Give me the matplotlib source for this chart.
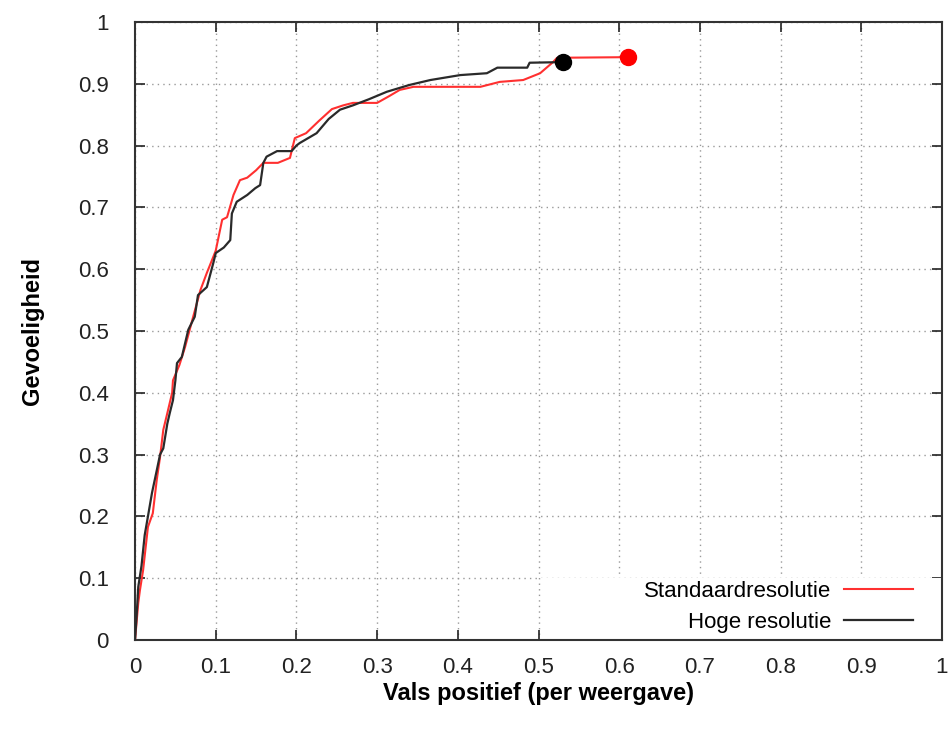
import matplotlib
matplotlib.use("Agg")
import matplotlib.pyplot as plt
from matplotlib.patches import Rectangle

# Standaardresolutie (red)
std_x = [0, 0.002, 0.004, 0.006, 0.010, 0.016, 0.022, 0.027, 0.031, 0.035, 0.040, 0.046, 0.047,
         0.055, 0.062, 0.071, 0.081, 0.089, 0.097, 0.100, 0.108, 0.114, 0.122, 0.130, 0.139,
         0.150, 0.159, 0.177, 0.192, 0.198, 0.212, 0.228, 0.244, 0.258, 0.270, 0.300, 0.315,
         0.328, 0.345, 0.380, 0.428, 0.452, 0.481, 0.502, 0.518, 0.523, 0.611]
std_y = [0, 0.03, 0.06, 0.08, 0.113, 0.183, 0.205, 0.26, 0.296, 0.34, 0.367, 0.40, 0.42,
         0.445, 0.474, 0.518, 0.566, 0.594, 0.62, 0.63, 0.68, 0.684, 0.72, 0.744, 0.748,
         0.76, 0.772, 0.772, 0.78, 0.812, 0.82, 0.84, 0.859, 0.865, 0.869, 0.869, 0.88,
         0.89, 0.895, 0.895, 0.895, 0.903, 0.906, 0.917, 0.935, 0.942, 0.943]

# Hoge resolutie (black)
hoog_x = [0, 0.002, 0.004, 0.008, 0.012, 0.016, 0.021, 0.027, 0.031, 0.035, 0.040, 0.043, 0.047,
          0.050, 0.052, 0.058, 0.066, 0.074, 0.078, 0.089, 0.097, 0.100, 0.110, 0.118, 0.120,
          0.126, 0.139, 0.149, 0.155, 0.159, 0.163, 0.176, 0.194, 0.200, 0.204, 0.225, 0.240,
          0.254, 0.270, 0.290, 0.312, 0.340, 0.366, 0.403, 0.436, 0.449, 0.486, 0.489, 0.530]
hoog_y = [0, 0.04, 0.086, 0.12, 0.17, 0.2, 0.238, 0.275, 0.30, 0.31, 0.35, 0.367, 0.388,
          0.42, 0.448, 0.458, 0.502, 0.523, 0.558, 0.571, 0.61, 0.626, 0.635, 0.647, 0.69,
          0.709, 0.72, 0.731, 0.736, 0.772, 0.782, 0.791, 0.791, 0.80, 0.804, 0.82, 0.843,
          0.858, 0.865, 0.875, 0.887, 0.898, 0.906, 0.914, 0.917, 0.926, 0.926, 0.934, 0.935]

ticks = [0, 0.1, 0.2, 0.3, 0.4, 0.5, 0.6, 0.7, 0.8, 0.9, 1]
tick_labels = ["0", "0.1", "0.2", "0.3", "0.4", "0.5", "0.6", "0.7", "0.8", "0.9", "1"]

plt.rcParams['font.family'] = ['Liberation Sans', 'DejaVu Sans']

fig = plt.figure(figsize=(9.51, 7.31), dpi=100)
ax = fig.add_axes([0.142, 0.1245, 0.8485, 0.8455])

ax.set_xlim(0, 1)
ax.set_ylim(0, 1)
ax.set_xticks(ticks)
ax.set_yticks(ticks)
ax.set_xticklabels(tick_labels)
ax.set_yticklabels(tick_labels)
ax.tick_params(direction='in', length=7, width=1.2, top=True, right=True,
               labelsize=16, colors='#222222')
ax.tick_params(axis='y', pad=19)
ax.tick_params(axis='x', pad=12)
for s in ax.spines.values():
    s.set_linewidth(1.5)
    s.set_color('#333333')

ax.grid(True, linestyle=(0, (1, 3)), color='#999999', linewidth=1.0)

# white key area
ax.add_patch(Rectangle((0.503, 0), 0.497, 0.1, facecolor='white', edgecolor='none', zorder=1.6))

ax.plot(std_x, std_y, color='#ff3030', lw=1.5, zorder=3, label='Standaardresolutie')
ax.plot(hoog_x, hoog_y, color='#2a2a2a', lw=1.6, zorder=3, label='Hoge resolutie')
ax.plot([std_x[-1]], [std_y[-1]], 'o', color='#ff0000', ms=11.5, zorder=4)
ax.plot([hoog_x[-1]], [hoog_y[-1]], 'o', color='#000000', ms=11.5, zorder=5)

ax.legend(loc='lower right', bbox_to_anchor=(0.978, -0.006), frameon=False, markerfirst=False,
          fontsize=16, handlelength=3.1, handletextpad=0.6, labelspacing=0.42,
          borderaxespad=0.1)

ax.set_xlabel('Vals positief (per weergave)', fontsize=17, fontweight='bold', labelpad=3)
ax.set_ylabel('Gevoeligheid', fontsize=17, fontweight='bold', labelpad=24)

fig.savefig('out.png', dpi=100)
